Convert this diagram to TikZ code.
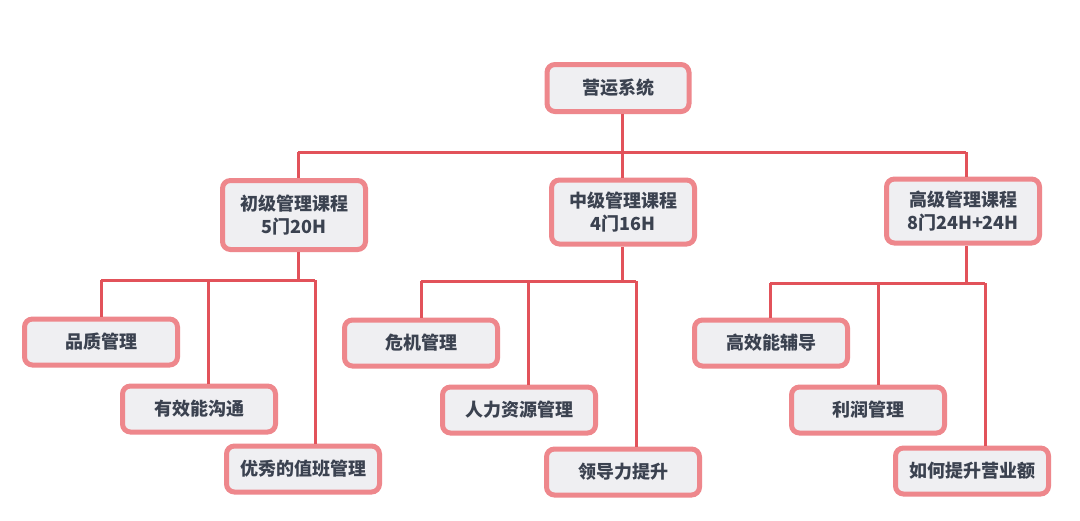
\documentclass[tikz,border=0pt]{standalone}
\usepackage{fontspec}
\setmainfont{Noto Sans CJK SC}
\definecolor{boxfill}{HTML}{EFEFF2}
\definecolor{boxline}{HTML}{EE878C}
\definecolor{conn}{HTML}{E2525A}
\definecolor{txt}{HTML}{3B4250}
\begin{document}
\begin{tikzpicture}[x=1pt,y=-1pt,
  box/.style={draw=boxline,line width=5pt,fill=boxfill,rounded corners=8pt,
    inner sep=0pt,text=txt,font=\fontsize{18}{23}\selectfont\bfseries,align=center},
  leaf/.style={box,minimum width=153pt,minimum height=46pt},
  link/.style={draw=conn,line width=3pt}]
\useasboundingbox (0,0) rectangle (1080,520);
\fill[white] (0,0) rectangle (1080,520);
\coordinate (bus) at (622,152);
\coordinate (ha) at (298,280);
\coordinate (hb) at (622,281);
\coordinate (hc) at (966,283);
\coordinate (a1) at (101,280);
\coordinate (a2) at (208,280);
\coordinate (a3) at (315,280);
\coordinate (b1) at (421,281);
\coordinate (b2) at (528,281);
\coordinate (b3) at (636,281);
\coordinate (c1) at (770,283);
\coordinate (c2) at (878,283);
\coordinate (c3) at (985,283);
\coordinate (ba) at (298,152);
\coordinate (bc) at (966,152);
\node[box,minimum width=142pt,minimum height=47pt] (root) at (618,88) {营运系统};
\node[box,minimum width=143pt,minimum height=69pt] (la) at (294,215) {初级管理课程\\5门20H};
\node[box,minimum width=143pt,minimum height=64pt] (lb) at (623,212) {中级管理课程\\4门16H};
\node[box,minimum width=153pt,minimum height=64pt] (lc) at (963,211) {高级管理课程\\8门24H+24H};
\node[leaf] (pa1) at (101,342) {品质管理};
\node[leaf] (pa2) at (199,409) {有效能沟通};
\node[leaf] (pa3) at (303,469) {优秀的值班管理};
\node[leaf] (pb1) at (421,343) {危机管理};
\node[leaf] (pb2) at (519,410) {人力资源管理};
\node[leaf] (pb3) at (623,472) {领导力提升};
\node[leaf] (pc1) at (771,343) {高效能辅导};
\node[leaf] (pc2) at (868,410) {利润管理};
\node[leaf] (pc3) at (972,471) {如何提升营业额};
\draw[link] (bus |- root.south) -- (bus);
\draw[link] (ba) -- (bc);
\draw[link] (ba) -- (ba |- la.north);
\draw[link] (bus) -- (bus |- lb.north);
\draw[link] (bc) -- (bc |- lc.north);
\draw[link] (ha |- la.south) -- (ha);
\draw[link] (hb |- lb.south) -- (hb);
\draw[link] (hc |- lc.south) -- (hc);
\draw[link] (a1) -- (a3);
\draw[link] (b1) -- (b3);
\draw[link] (c1) -- (c3);
\draw[link] (a1) -- (a1 |- pa1.north);
\draw[link] (a2) -- (a2 |- pa2.north);
\draw[link] (a3) -- (a3 |- pa3.north);
\draw[link] (b1) -- (b1 |- pb1.north);
\draw[link] (b2) -- (b2 |- pb2.north);
\draw[link] (b3) -- (b3 |- pb3.north);
\draw[link] (c1) -- (c1 |- pc1.north);
\draw[link] (c2) -- (c2 |- pc2.north);
\draw[link] (c3) -- (c3 |- pc3.north);
\end{tikzpicture}
\end{document}
